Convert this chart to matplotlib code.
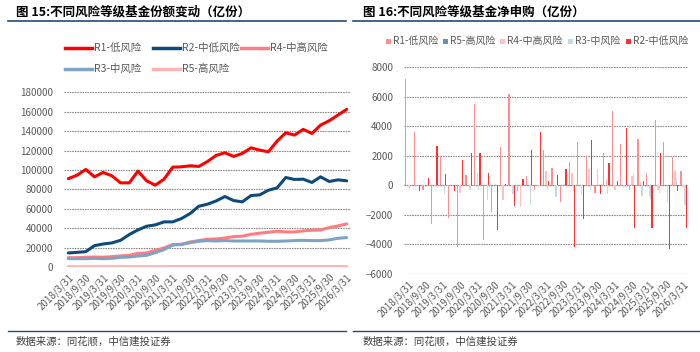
import numpy as np
import matplotlib
matplotlib.use("Agg")
import matplotlib.pyplot as plt
from matplotlib.lines import Line2D
from matplotlib.patches import Rectangle

plt.rcParams['font.family'] = ['Noto Sans CJK SC', 'DejaVu Sans']

# ---- data
dates = []
for y in range(2018, 2027):
    for md in ["3/31", "6/30", "9/30", "12/31"]:
        dates.append(f"{y}/{md}")
dates = dates[:33]  # 2018/3/31 .. 2026/3/31

share_r1 = [91000, 94600, 100500, 92900, 97400, 94000, 86700, 86700, 98800, 88800, 84300,
            90500, 102900, 103200, 104300, 103600, 108700, 115000, 117700, 113900, 117000,
            122800, 120400, 118700, 129700, 138300, 135900, 141800, 137600, 146200, 150700,
            156600, 162400]
share_r2 = [14450, 15100, 15800, 22000, 23700, 24800, 27500, 33400, 38200, 42000, 43400,
            46500, 46500, 49900, 55100, 62600, 64700, 68100, 72600, 68500, 67100, 73600,
            74300, 79100, 81500, 92200, 90200, 90500, 87100, 92900, 88100, 89800, 88800]
share_r4 = [9600, 9600, 10000, 10300, 10000, 10700, 11400, 12000, 14100, 14500, 17200,
            19600, 23100, 23400, 25800, 27200, 28600, 28900, 29900, 31300, 31700, 33700,
            34800, 35800, 36800, 36100, 36100, 37200, 37900, 38200, 40600, 42300, 44400]
share_r3 = [8600, 8600, 8600, 8900, 8600, 8900, 10000, 10300, 11400, 12000, 14800, 17900,
            22700, 23100, 25100, 26500, 27200, 26800, 27200, 26800, 26800, 26800, 26800,
            26500, 26500, 26800, 27200, 27500, 27200, 27200, 27900, 29600, 30300]
share_r5 = [300, 300, 300, 300, 300, 300, 300, 300, 350, 350, 400, 400, 450, 450, 450, 450,
            450, 450, 450, 450, 450, 450, 450, 450, 450, 450, 450, 450, 450, 450, 450, 450, 450]

flow_r1 = [7200, 3600, -300, -2600, 2000, -2200, -4200, 700, 5500, -3700, -1800, 2600, 6200,
           -400, 600, -300, 2400, 1200, -1100, 1600, 2900, 2000, -500, 2200, 5000, 2800, -300,
           3100, 800, 4400, 2900, 1900, 1000]
flow_r5 = [0, 0, 50, 0, -50, 0, 0, 50, 0, -50, 0, 50, 0, 0, -50, 0, 50, 0, 0, -50, 0, 0, 50,
           0, 0, -50, 0, 0, 50, 0, -50, 0, 0]
flow_r4 = [-100, 0, 0, 0, 0, 0, -500, 0, 800, 0, 0, -1000, 0, -1500, 0, 0, 1000, 0, 0, 800,
           100, 1100, 1100, 400, -300, -100, 600, 200, -700, -300, 0, 1000, -100]
flow_r3 = [-250, -50, 0, -100, -600, 0, 0, -300, -300, -1000, 100, 0, -600, 0, -1300, -100,
           -300, -800, 100, -400, -600, -300, 0, -600, 0, -100, 750, -700, -900, -500, -1100,
           500, -1300]
flow_r2 = [0, -400, 500, 2650, 750, -400, 1700, 2200, 2200, 800, -3000, 100, -1400, 400, 2400,
           3600, 300, 700, 1100, -4200, -2300, 3050, -600, 1500, 300, 3850, -2900, 300, -2900,
           2200, -4300, -400, -2900]

W, H = 700, 352
fig = plt.figure(figsize=(7.0, 3.52), dpi=100)
fig.patch.set_facecolor("white")

def px(x0, y0, x1, y1):
    return [x0 / W, 1 - y1 / H, (x1 - x0) / W, (y1 - y0) / H]

TICK_C = "#595959"
GRID_C = "#8C8C8C"
TITLE_LINE = "#1F4E79"

# ---- titles, rules, source
fig.text(16 / W, 1 - 12 / H, "图 15:不同风险等级基金份额变动（亿份）", fontsize=9,
         fontweight="bold", va="center", ha="left")
fig.text(363 / W, 1 - 12 / H, "图 16:不同风险等级基金净申购（亿份）", fontsize=9,
         fontweight="bold", va="center", ha="left")
for x0, x1 in [(8, 346), (353, 700)]:
    fig.add_artist(Line2D([x0 / W, x1 / W], [1 - 21 / H] * 2, color=TITLE_LINE, lw=1.2))
    fig.add_artist(Line2D([x0 / W, x1 / W], [1 - 331 / H] * 2, color=TITLE_LINE, lw=1.0))
fig.text(16 / W, 1 - 342 / H, "数据来源：同花顺，中信建投证券", fontsize=7.5, color="#404040",
         va="center", ha="left")
fig.text(363 / W, 1 - 342 / H, "数据来源：同花顺，中信建投证券", fontsize=7.5, color="#404040",
         va="center", ha="left")

x = np.arange(len(dates))
tick_idx = list(range(0, len(dates), 2))

# ---- left: shares
ax1 = fig.add_axes(px(64, 92.3, 351, 267))
lines = [
    ("R1-低风险", share_r1, "#FF0000"),
    ("R2-中低风险", share_r2, "#0E4B7C"),
    ("R4-中高风险", share_r4, "#FF7C80"),
    ("R3-中风险", share_r3, "#7FA3C4"),
    ("R5-高风险", share_r5, "#FFB3B3"),
]
for lab, vals, c in lines:
    ax1.plot(x, vals, color=c, lw=2.2, solid_capstyle="round")
ax1.set_xlim(-0.5, 32.5)
ax1.set_ylim(0, 180000)
ax1.set_yticks(np.arange(0, 180001, 20000))
ax1.grid(axis="y", color=GRID_C, lw=0.8, ls=(0, (1.5, 0.8)))
ax1.set_axisbelow(True)
ax1.set_xticks(tick_idx)
ax1.set_xticklabels([dates[i] for i in tick_idx], rotation=45, ha="right",
                    rotation_mode="anchor", fontsize=6.5, color=TICK_C)
ax1.tick_params(axis="both", length=0, labelsize=7, colors=TICK_C)
ax1.tick_params(axis="y", pad=8)
for s in ax1.spines.values():
    s.set_visible(False)

# legend (2 rows)
leg_pos = [(65, 48), (153, 48), (241, 48), (65, 69), (153, 69)]
for (lab, vals, c), (lx, ly) in zip(lines, leg_pos):
    fig.add_artist(Line2D([lx / W, (lx + 27) / W], [1 - ly / H] * 2, color=c, lw=2.5))
    fig.text((lx + 29) / W, 1 - ly / H, lab, fontsize=7.5, color=TICK_C, va="center")

# ---- right: net subscriptions
ax2 = fig.add_axes(px(404.2, 67, 688, 274))
bars = [
    ("R1-低风险", flow_r1, "#FF8F8F"),
    ("R5-高风险", flow_r5, "#6A8FB5"),
    ("R4-中高风险", flow_r4, "#FFC2C2"),
    ("R3-中风险", flow_r3, "#C5D9E8"),
    ("R2-中低风险", flow_r2, "#FF3030"),
]
bw = 0.155
for i, (lab, vals, c) in enumerate(bars):
    ax2.bar(x + (i - 2) * bw, vals, width=bw * 0.95, color=c, linewidth=0, label=lab)
ax2.axhline(0, color="#D0D0D0", lw=0.8, zorder=0.5)
ax2.set_xlim(-0.5, 32.5)
ax2.set_ylim(-6000, 8000)
ax2.set_yticks(np.arange(-6000, 8001, 2000))
ax2.grid(axis="y", color=GRID_C, lw=0.8, ls=(0, (1.5, 0.8)))
ax2.set_axisbelow(True)
ax2.set_xticks(tick_idx)
ax2.set_xticklabels([dates[i] for i in tick_idx], rotation=45, ha="right",
                    rotation_mode="anchor", fontsize=6.5, color=TICK_C)
ax2.tick_params(axis="both", length=0, labelsize=7, colors=TICK_C)
ax2.tick_params(axis="y", pad=8)
for s in ax2.spines.values():
    s.set_visible(False)

# legend (one row, square markers)
leg2_x = [386, 443, 500, 568, 626]
for (lab, vals, c), lx in zip(bars, leg2_x):
    fig.add_artist(Rectangle((lx / W, 1 - 44 / H), 5 / W, 5 / H, color=c,
                             transform=fig.transFigure, linewidth=0))
    fig.text((lx + 7) / W, 1 - 41 / H, lab, fontsize=7.2, color=TICK_C, va="center")

fig.savefig("out.png", dpi=100, facecolor="white")
